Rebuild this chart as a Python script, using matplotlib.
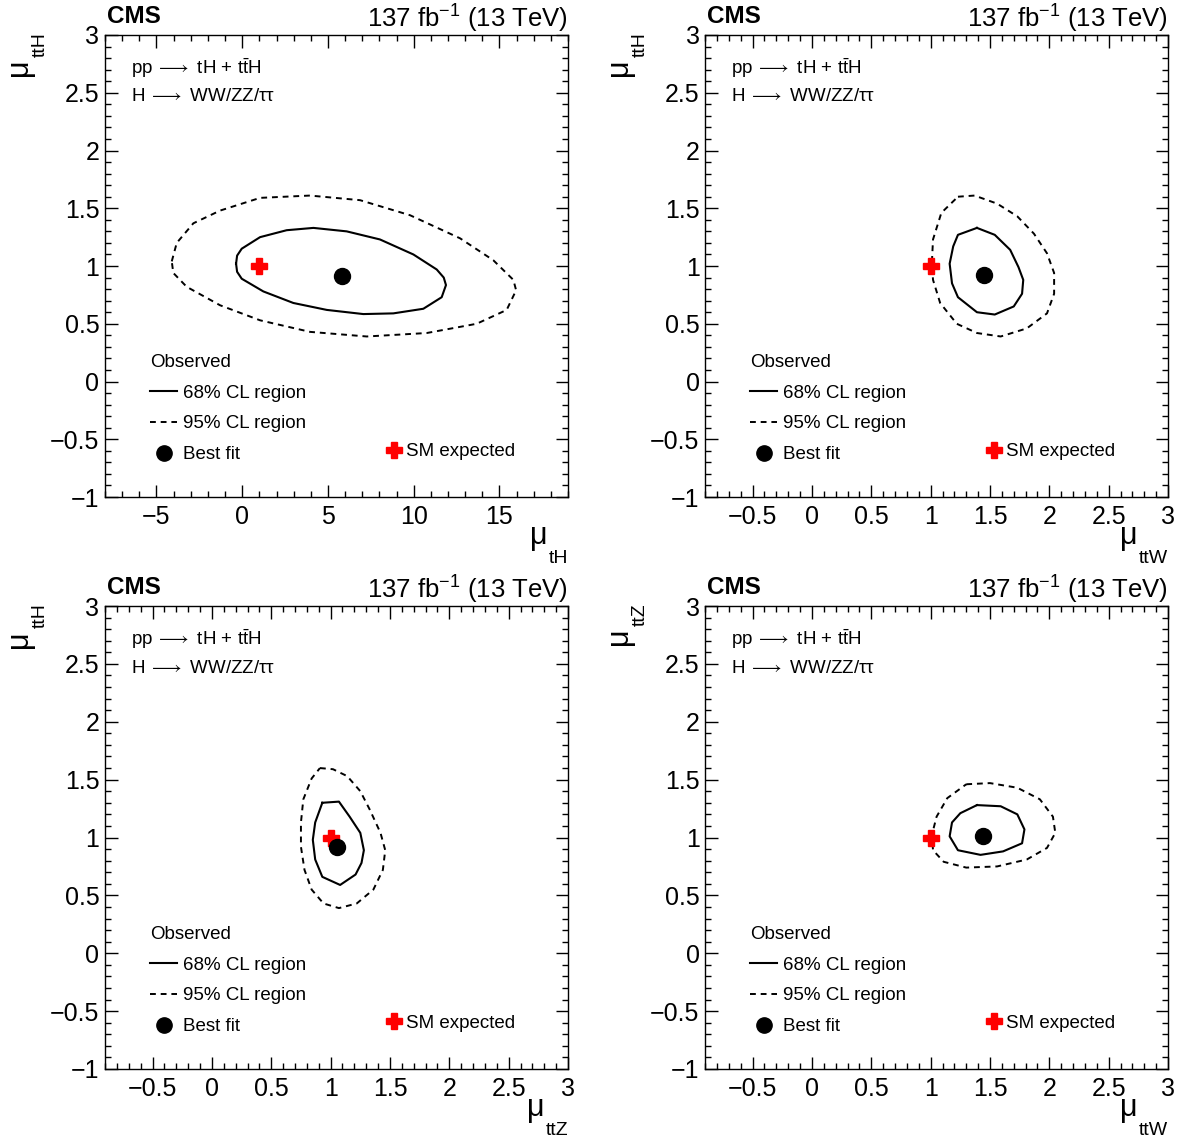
import matplotlib
matplotlib.use('Agg')
import matplotlib.pyplot as plt
from matplotlib.lines import Line2D
from matplotlib.ticker import MultipleLocator, AutoMinorLocator, FuncFormatter
from matplotlib.transforms import offset_copy, IdentityTransform
import numpy as np

plt.rcParams['font.family'] = ['Liberation Sans', 'DejaVu Sans']
plt.rcParams['mathtext.fontset'] = 'custom'
plt.rcParams['mathtext.rm'] = 'Liberation Sans'
plt.rcParams['mathtext.it'] = 'DejaVu Sans'

# ---- panel 1: mu_tH vs mu_ttH
p1_68_x = [-0.36, -0.30, -0.03, 1.04, 2.59, 4.15, 6.09, 8.03, 9.98, 11.34, 11.75, 11.88, 11.63,
           10.56, 8.81, 7.06, 4.93, 2.98, 1.23, -0.03, -0.30]
p1_68_y = [1.02, 1.09, 1.15, 1.25, 1.31, 1.33, 1.30, 1.23, 1.10, 0.97, 0.90, 0.835, 0.73,
           0.63, 0.59, 0.584, 0.62, 0.68, 0.78, 0.89, 0.95]
p1_95_x = [-4.11, -3.82, -2.85, -1.29, 1.04, 3.95, 6.87, 9.78, 12.70, 14.64, 15.81, 15.97,
           15.42, 13.67, 10.76, 7.26, 3.95, 1.04, -1.29, -3.24, -4.02]
p1_95_y = [1.04, 1.20, 1.37, 1.48, 1.59, 1.61, 1.57, 1.44, 1.24, 1.05, 0.88, 0.79,
           0.62, 0.50, 0.42, 0.39, 0.43, 0.53, 0.66, 0.82, 0.94]
p1_best = (5.82, 0.91)

# ---- panel 2: mu_ttW vs mu_ttH
p2_68_x = [1.39, 1.54, 1.67, 1.74, 1.78, 1.77, 1.70, 1.54, 1.39, 1.23, 1.18, 1.16, 1.19, 1.23]
p2_68_y = [1.33, 1.27, 1.14, 0.99, 0.88, 0.76, 0.65, 0.58, 0.60, 0.73, 0.85, 1.02, 1.17, 1.27]
p2_95_x = [1.23, 1.37, 1.56, 1.73, 1.87, 1.98, 2.04, 2.04, 1.98, 1.81, 1.59, 1.39, 1.22,
           1.08, 1.02, 1.01, 1.02, 1.09]
p2_95_y = [1.60, 1.61, 1.54, 1.43, 1.28, 1.11, 0.94, 0.76, 0.59, 0.46, 0.39, 0.42, 0.50,
           0.68, 0.88, 1.02, 1.23, 1.46]
p2_best = (1.45, 0.92)

# ---- panel 3: mu_ttZ vs mu_ttH
p3_68_x = [0.93, 1.07, 1.16, 1.25, 1.28, 1.26, 1.21, 1.08, 0.93, 0.87, 0.85, 0.87]
p3_68_y = [1.30, 1.31, 1.18, 1.04, 0.89, 0.78, 0.68, 0.59, 0.66, 0.81, 0.98, 1.13]
p3_95_x = [0.91, 1.02, 1.14, 1.25, 1.33, 1.42, 1.46, 1.44, 1.36, 1.22, 1.07, 0.94, 0.84,
           0.78, 0.75, 0.75, 0.77, 0.84]
p3_95_y = [1.60, 1.59, 1.53, 1.40, 1.24, 1.04, 0.89, 0.72, 0.55, 0.43, 0.39, 0.43, 0.55,
           0.72, 0.92, 1.13, 1.33, 1.51]
p3_best = (1.05, 0.92)

# ---- panel 4: mu_ttW vs mu_ttZ
p4_68_x = [1.39, 1.59, 1.73, 1.79, 1.77, 1.61, 1.42, 1.23, 1.16, 1.18, 1.25]
p4_68_y = [1.28, 1.27, 1.20, 1.07, 0.95, 0.88, 0.85, 0.89, 1.01, 1.13, 1.21]
p4_95_x = [1.30, 1.50, 1.73, 1.92, 2.03, 2.05, 1.98, 1.81, 1.56, 1.30, 1.11, 1.02, 1.01,
           1.05, 1.14]
p4_95_y = [1.46, 1.47, 1.43, 1.33, 1.18, 1.04, 0.91, 0.81, 0.75, 0.74, 0.79, 0.89, 1.02,
           1.18, 1.34]
p4_best = (1.44, 1.01)

sm_point = (1.0, 1.0)

panels = [
    dict(pos=[0.0888, 0.5640, 0.3914, 0.4053], xlim=(-8, 19), major=5, c68=(p1_68_x, p1_68_y),
         c95=(p1_95_x, p1_95_y), best=p1_best, xlab='tH', ylab='ttH'),
    dict(pos=[0.5960, 0.5640, 0.3914, 0.4053], xlim=(-0.9, 3), major=0.5, c68=(p2_68_x, p2_68_y),
         c95=(p2_95_x, p2_95_y), best=p2_best, xlab='ttW', ylab='ttH'),
    dict(pos=[0.0888, 0.0623, 0.3914, 0.4061], xlim=(-0.9, 3), major=0.5, c68=(p3_68_x, p3_68_y),
         c95=(p3_95_x, p3_95_y), best=p3_best, xlab='ttZ', ylab='ttH'),
    dict(pos=[0.5960, 0.0623, 0.3914, 0.4061], xlim=(-0.9, 3), major=0.5, c68=(p4_68_x, p4_68_y),
         c95=(p4_95_x, p4_95_y), best=p4_best, xlab='ttW', ylab='ttZ'),
]

fmt = FuncFormatter(lambda v, pos: ('%g' % (round(v, 6) + 0.0)).replace('-', '\u2212'))

fig = plt.figure(figsize=(11.83, 11.40), dpi=100)
subs = []

for p in panels:
    ax = fig.add_axes(p['pos'])
    ax.set_xlim(*p['xlim'])
    ax.set_ylim(-1, 3)

    x68, y68 = p['c68']
    x95, y95 = p['c95']
    ax.plot(np.append(x68, x68[0]), np.append(y68, y68[0]), color='black', lw=1.5)
    ax.plot(np.append(x95, x95[0]), np.append(y95, y95[0]), color='black', lw=1.4,
            dashes=(3, 2.5))
    ax.plot([sm_point[0]], [sm_point[1]], marker='P', color='red', markersize=11, ls='none')
    ax.plot([p['best'][0]], [p['best'][1]], marker='o', color='black', markersize=11.5, ls='none')

    ax.xaxis.set_major_locator(MultipleLocator(p['major']))
    ax.xaxis.set_minor_locator(AutoMinorLocator(5))
    ax.yaxis.set_major_locator(MultipleLocator(0.5))
    ax.yaxis.set_minor_locator(AutoMinorLocator(5))
    ax.xaxis.set_major_formatter(fmt)
    ax.yaxis.set_major_formatter(fmt)
    ax.tick_params(which='both', direction='in', top=True, right=True, labelsize=18)
    ax.tick_params(which='major', length=9, width=1)
    ax.tick_params(which='minor', length=4.5, width=1)
    ax.tick_params(axis='x', pad=6)
    ax.tick_params(axis='y', pad=4)
    for s in ax.spines.values():
        s.set_linewidth(1)

    ax.text(0.005, 1.025, 'CMS', transform=ax.transAxes, fontsize=17.5, fontweight='bold',
            ha='left', va='baseline')
    ax.text(1.0, 1.018, r'137 fb$^{\mathregular{-1}}$ (13 TeV)', transform=ax.transAxes,
            fontsize=18.5, ha='right', va='baseline')
    ax.text(0.056, 0.929, r'pp$\,\longrightarrow$ tH + t$\mathregular{\bar{t}}$H',
            transform=ax.transAxes, fontsize=13.5, ha='left', va='center')
    ax.text(0.056, 0.866, 'H$\\,\\longrightarrow$ WW/ZZ/\u03c4\u03c4',
            transform=ax.transAxes, fontsize=13.5, ha='left', va='center')

    # axis titles: big mu with a lowered subscript
    tx = offset_copy(ax.transAxes, fig=fig, x=0, y=-66, units='dots')
    sx = ax.text(1.0, 0.0, p['xlab'], transform=tx, fontsize=14, ha='right', va='baseline')
    ty = offset_copy(ax.transAxes, fig=fig, x=-60, y=3, units='dots')
    sy = ax.text(0.0, 1.0, p['ylab'], transform=ty, fontsize=14, ha='right', va='baseline',
                 rotation=90, rotation_mode='anchor')
    subs.append((ax, sx, tx, sy, ty))

    handles = [Line2D([], [], color='black', lw=1.5),
               Line2D([], [], color='black', lw=1.4, dashes=(3, 2.5)),
               Line2D([], [], marker='o', color='black', markersize=11, ls='none')]
    leg = ax.legend(handles, ['68% CL region', '95% CL region', 'Best fit'], title='Observed',
                    loc='lower left', bbox_to_anchor=(0.097, 0.073), frameon=False,
                    fontsize=13.5, title_fontsize=13.5, handlelength=1.45, handletextpad=0.3,
                    labelspacing=0.73, borderpad=0, borderaxespad=0)
    leg._legend_box.align = 'left'
    ax.add_artist(leg)
    sm_handle = Line2D([], [], marker='P', color='red', markersize=11, ls='none')
    ax.legend([sm_handle], ['SM expected'], loc='lower left', bbox_to_anchor=(0.61, 0.08),
              frameon=False, fontsize=13.5, handlelength=0.7, handletextpad=0.3,
              borderpad=0, borderaxespad=0)

fig.canvas.draw()
r = fig.canvas.get_renderer()
for ax, sx, tx, sy, ty in subs:
    bx = sx.get_window_extent(r)
    base = tx.transform((1.0, 0.0))
    fig.text(bx.x0 - 1, base[1] + 19, '\u03bc', transform=IdentityTransform(), fontsize=22,
             ha='right', va='baseline')
    by = sy.get_window_extent(r)
    basey = ty.transform((0.0, 1.0))
    fig.text(basey[0] - 18, by.y0 - 2, '\u03bc', transform=IdentityTransform(), fontsize=22,
             ha='right', va='baseline', rotation=90, rotation_mode='anchor')

fig.savefig('out.png', dpi=100)
